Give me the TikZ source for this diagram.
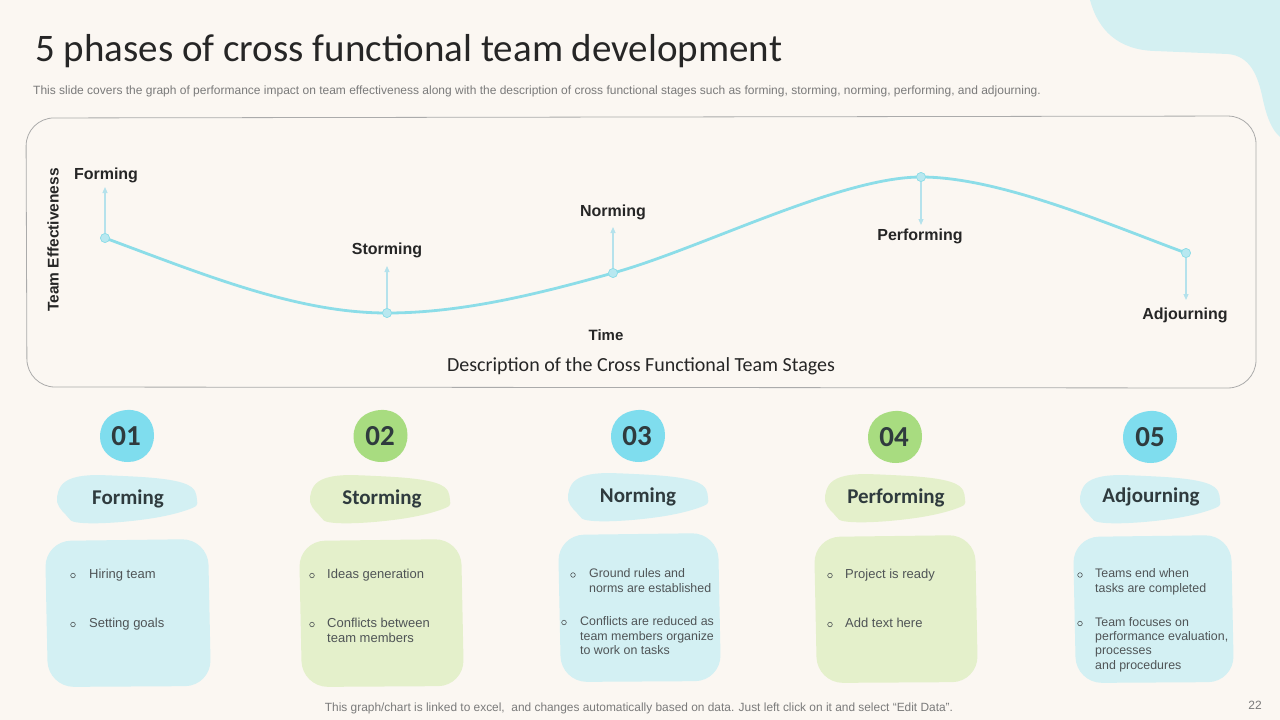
\documentclass[tikz,border=0pt]{standalone}
\usepackage{fontspec}
\setmainfont{Liberation Sans}
\newfontfamily\titlefont{Carlito}
\usetikzlibrary{arrows.meta}
\definecolor{bg}{HTML}{FBF7F2}
\definecolor{blobtr}{HTML}{D4F0F2}
\definecolor{framecol}{HTML}{ABABAB}
\definecolor{curvecol}{HTML}{8CDDE8}
\definecolor{dotfill}{HTML}{B8E8F0}
\definecolor{arrowcol}{HTML}{B5E2EC}
\definecolor{cyanstrong}{HTML}{7FDDEE}
\definecolor{greenstrong}{HTML}{A8DC80}
\definecolor{cyanlight}{HTML}{D3F0F3}
\definecolor{greenlight}{HTML}{E4F0CB}
\definecolor{textdark}{HTML}{2F3B3E}
\definecolor{textgray}{HTML}{4F5456}
\definecolor{subgray}{HTML}{7A7A7A}
\definecolor{titlecol}{HTML}{262626}
\tikzset{
  chartlabel/.style={font=\bfseries\fontsize{16}{18}\selectfont, text=titlecol, inner sep=0},
  dotnode/.style={circle, fill=dotfill, draw=curvecol, line width=0.6pt, minimum size=9pt, inner sep=0},
  arr/.style={draw=arrowcol, line width=1.1pt, -{Triangle[length=6pt,width=5pt]}},
  numtext/.style={font=\titlefont\bfseries\fontsize{29}{32}\selectfont, text=textdark, inner sep=0},
  stagetext/.style={font=\titlefont\bfseries\fontsize{21}{24}\selectfont, text=textdark, inner sep=0},
  body/.style={font=\fontsize{13}{14.4}\selectfont, text=textgray, anchor=north west, inner sep=0, align=left},
  bodytight/.style={body, font=\fontsize{12.4}{14.4}\selectfont},
  bul/.style={circle, draw=textgray, line width=0.6pt, minimum size=4.6pt, inner sep=0},
}
\newcommand\numblob[3]{%
  \fill[#3] (#1,#2-26) .. controls (#1+16,#2-27) and (#1+27,#2-16) .. (#1+27,#2-1)
    .. controls (#1+27,#2+15) and (#1+16,#2+26) .. (#1+1,#2+26)
    .. controls (#1-15,#2+26) and (#1-27,#2+15) .. (#1-27,#2+1)
    .. controls (#1-27,#2-15) and (#1-16,#2-25) .. (#1,#2-26) -- cycle;}
\newcommand\stageblob[3]{%
  \fill[#3] plot[smooth cycle, tension=0.7] coordinates {(#1-70,#2-3) (#1-54,#2-22) (#1-4,#2-24) (#1+56,#2-17) (#1+70,#2) (#1+60,#2+10) (#1+13,#2+20) (#1-44,#2+23) (#1-61,#2+15)};}
\newcommand\descbox[5]{%
  \fill[#5, rounded corners=26pt] (#1,#2+2) -- (#3-2,#2) -- (#3+1,#4-1) -- (#1+3,#4) -- cycle;}
\begin{document}
\begin{tikzpicture}[x=1pt,y=-1pt]
\useasboundingbox (0,0) rectangle (1280,720);
\fill[bg] (0,0) rectangle (1280,720);
% top-right blob
\fill[blobtr] (1090,0) .. controls (1098,30) and (1118,50) .. (1155,51) -- (1228,54) .. controls (1250,56) and (1258,75) .. (1263,100) .. controls (1267,118) and (1272,130) .. (1280,137) -- (1280,0) -- cycle;
% title and subtitle
\node[anchor=base west, font=\titlefont\fontsize{39}{44}\selectfont, text=titlecol, inner sep=0] (title) at (35,61) {5 phases of cross functional team development};
\node[anchor=base west, font=\fontsize{12}{14}\selectfont, text=subgray, inner sep=0] (subtitle) at (33,94) {This slide covers the graph of performance impact on team effectiveness along with the description of cross functional stages such as forming, storming, norming, performing, and adjourning.};
% chart frame
\draw[framecol, line width=0.8pt, rounded corners=28pt] (26,118) -- (1256,116) -- (1256,388) -- (27,387) -- cycle;
% axis labels
\node[chartlabel, rotate=90, font=\bfseries\fontsize{15.5}{18}\selectfont] (yaxis) at (53,240) {Team Effectiveness};
\node[chartlabel, font=\bfseries\fontsize{15}{18}\selectfont] (time) at (606,335) {Time};
% curve
\node[dotnode] (d1) at (105,238) {};
\node[dotnode] (d2) at (387,313) {};
\node[dotnode] (d3) at (613,273) {};
\node[dotnode] (d4) at (921,177) {};
\node[dotnode] (d5) at (1186,253) {};
\draw[curvecol, line width=2.8pt] (d1.center) .. controls (205,275) and (297,313) .. (d2.center)
  .. controls (462,313) and (538,294) .. (d3.center)
  .. controls (700,249) and (840,177) .. (d4.center)
  .. controls (1000,177) and (1110,225) .. (d5.center);
\foreach \n in {d1,d2,d3,d4,d5} \node[dotnode] at (\n) {};
% chart labels and arrows
\node[chartlabel] (lf) at (106,175) {Forming};
\node[chartlabel] (ls) at (387,250) {Storming};
\node[chartlabel] (ln) at (613,212) {Norming};
\node[chartlabel] (lp) at (920,236) {Performing};
\node[chartlabel] (la) at (1185,315) {Adjourning};
\coordinate (t1) at (105,187);
\coordinate (t2) at (387,266);
\coordinate (t3) at (613,227);
\coordinate (t4) at (921,225);
\coordinate (t5) at (1186,300);
\draw[arr] (d1) -- (t1);
\draw[arr] (d2) -- (t2);
\draw[arr] (d3) -- (t3);
\draw[arr] (d4) -- (t4);
\draw[arr] (d5) -- (t5);
\node[font=\titlefont\fontsize{20}{23}\selectfont, text=titlecol, inner sep=0] (desc) at (641,366) {Description of the Cross Functional Team Stages};
% number blobs
\numblob{127}{436}{cyanstrong}
\numblob{380.5}{436}{greenstrong}
\numblob{638}{436}{cyanstrong}
\numblob{895}{437}{greenstrong}
\numblob{1150}{437}{cyanstrong}
\node[numtext] (n1) at (126,436) {01};
\node[numtext] (n2) at (380,436) {02};
\node[numtext] (n3) at (637,436) {03};
\node[numtext] (n4) at (894,437) {04};
\node[numtext] (n5) at (1150,437) {05};
% stage blobs
\stageblob{127}{500}{cyanlight}
\stageblob{380}{500}{greenlight}
\stageblob{638}{498}{cyanlight}
\stageblob{895}{499}{greenlight}
\stageblob{1150}{500}{cyanlight}
\node[stagetext] (s1) at (128,499) {Forming};
\node[stagetext] (s2) at (382,499) {Storming};
\node[stagetext] (s3) at (638,497) {Norming};
\node[stagetext] (s4) at (896,498) {Performing};
\node[stagetext] (s5) at (1151,497) {Adjourning};
% description boxes
\descbox{45}{539}{210}{687}{cyanlight}
\descbox{299}{539}{463}{687}{greenlight}
\descbox{558}{533}{720}{682}{cyanlight}
\descbox{814}{535}{977}{683}{greenlight}
\descbox{1073}{535}{1233}{683}{cyanlight}
% box texts
\node[bul] (b11) at (73,575.5) {};
\node[body] (x11) at (89,569) {Hiring team};
\node[bul] (b12) at (73,624.5) {};
\node[body] (x12) at (89,618) {Setting goals};
\node[bul] (b21) at (312,575.5) {};
\node[body] (x21) at (327,569) {Ideas generation};
\node[bul] (b22) at (312,624.5) {};
\node[body] (x22) at (327,618) {Conflicts between\\team members};
\node[bul] (b31) at (573,575) {};
\node[bodytight] (x31) at (589,568.5) {Ground rules and\\norms are established};
\node[bul] (b32) at (564,622.5) {};
\node[bodytight] (x32) at (580,616.5) {Conflicts are reduced as\\team members organize\\to work on tasks};
\node[bul] (b41) at (830,575.5) {};
\node[body] (x41) at (845,569) {Project is ready};
\node[bul] (b42) at (830,624.5) {};
\node[body] (x42) at (845,618) {Add text here};
\node[bul] (b51) at (1080,575) {};
\node[bodytight] (x51) at (1095,568.5) {Teams end when\\tasks are completed};
\node[bul] (b52) at (1080,623.5) {};
\node[bodytight] (x52) at (1095,617) {Team focuses on\\performance evaluation,\\processes\\and procedures};
% footer
\node[anchor=base, font=\fontsize{11.9}{13}\selectfont, text=subgray, inner sep=0] (footer) at (639,711) {This graph/chart is linked to excel,\ \ and changes automatically based on data. Just left click on it and select “Edit Data”.};
\node[anchor=base, font=\fontsize{12}{14}\selectfont, text=subgray, inner sep=0] (pagenum) at (1255,709) {22};
\end{tikzpicture}
\end{document}
